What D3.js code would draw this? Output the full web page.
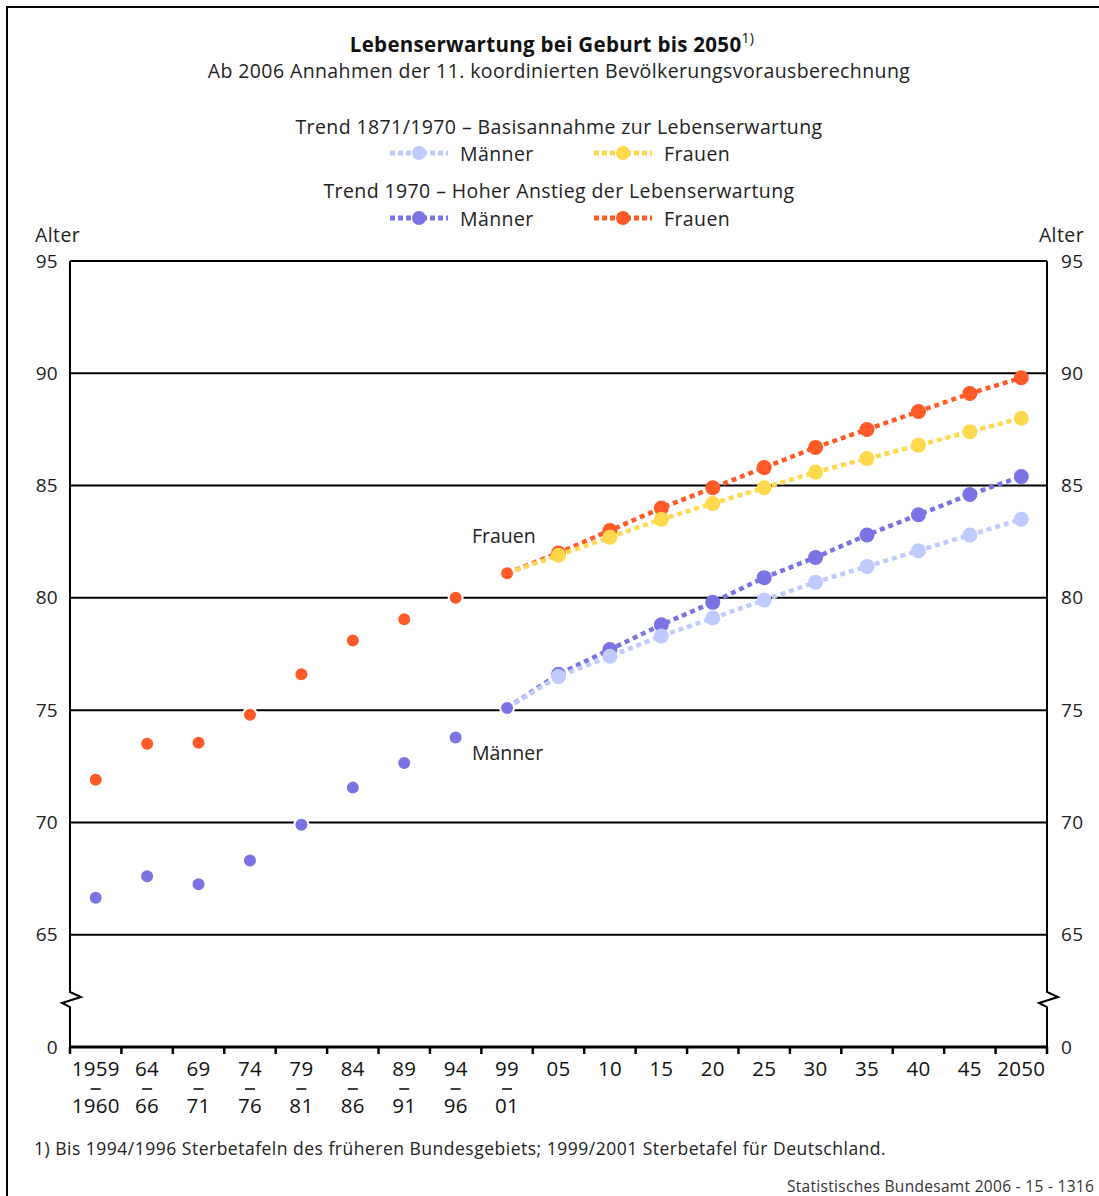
<!DOCTYPE html>
<html><head><meta charset="utf-8">
<script src="https://cdn.jsdelivr.net/npm/d3@7"></script>
<style>
html,body{margin:0;padding:0;background:#fff;}
svg{display:block;font-family:"Open Sans",sans-serif;}
</style></head>
<body>
<svg id="c" width="1099" height="1196"></svg>
<script>
// ---- data ----
const catTop = ["1959","64","69","74","79","84","89","94","99","05","10","15","20","25","30","35","40","45","2050"];
const catBottom = ["1960","66","71","76","81","86","91","96","01","","","","","","","","","",""];
const histFrauen = [71.9, 73.5, 73.55, 74.8, 76.6, 78.1, 79.05, 80.0, 81.1];
const histMaenner = [66.65, 67.6, 67.25, 68.3, 69.9, 71.55, 72.65, 73.78, 75.1];
// projections start at index 8 (1999/01) through 2050
const projFrauenHoch = [81.1, 82.0, 83.0, 84.0, 84.9, 85.8, 86.7, 87.5, 88.3, 89.1, 89.8];
const projFrauenBasis = [81.1, 81.9, 82.7, 83.5, 84.2, 84.9, 85.6, 86.2, 86.8, 87.4, 88.0];
const projMaennerHoch = [75.1, 76.6, 77.7, 78.8, 79.8, 80.9, 81.8, 82.8, 83.7, 84.6, 85.4];
const projMaennerBasis = [75.1, 76.5, 77.4, 78.3, 79.1, 79.9, 80.7, 81.4, 82.1, 82.8, 83.5];
const yTicks = [65, 70, 75, 80, 85, 90, 95];
const yBottomLabel = "0";

const C = {red:"#ff5a28", yellow:"#ffd84c", purple:"#7b73e3", light:"#bfcbff"};
const FS = 19.5, LS = 0.4;

const svg = d3.select("#c");
const X0 = 70, X1 = 1047, YT = 261, YB = 1047;

// outer frame (cropped)
svg.append("path").attr("d","M7,1200 L7,7 L1105,7").attr("fill","none").attr("stroke","#000").attr("stroke-width",2);

const x = d3.scaleBand().domain(catTop).range([X0, X1]).padding(0);
const y = d3.scaleLinear().domain([60, 95]).range([YB, YT]);
const cx = c => x(c) + x.bandwidth()/2;

// title
const tt = svg.append("text").attr("x",552).attr("y",52).attr("text-anchor","middle")
  .attr("font-size",20.5).attr("font-weight","bold").attr("fill","#111").attr("letter-spacing",0.3);
tt.append("tspan").text("Lebenserwartung bei Geburt bis 2050");
tt.append("tspan").attr("font-size",14).attr("font-weight","normal").attr("dy",-9).text("1)");
svg.append("text").attr("x",559).attr("y",78).attr("text-anchor","middle")
  .attr("font-size",FS).attr("letter-spacing",LS).attr("fill","#222")
  .text("Ab 2006 Annahmen der 11. koordinierten Bevölkerungsvorausberechnung");

// legend
const legendGroups = [
  {title:"Trend 1871/1970 – Basisannahme zur Lebenserwartung", ty:134, ry:153, items:[{t:"Männer",c:C.light},{t:"Frauen",c:C.yellow}]},
  {title:"Trend 1970 – Hoher Anstieg der Lebenserwartung", ty:198, ry:218, items:[{t:"Männer",c:C.purple},{t:"Frauen",c:C.red}]}
];
legendGroups.forEach(g=>{
  svg.append("text").attr("x",559).attr("y",g.ty).attr("text-anchor","middle")
    .attr("font-size",FS).attr("letter-spacing",LS).attr("fill","#222").text(g.title);
  g.items.forEach((it,i)=>{
    const lx = 390 + i*204;
    svg.append("line").attr("x1",lx).attr("x2",lx+58).attr("y1",g.ry).attr("y2",g.ry)
      .attr("stroke",it.c).attr("stroke-width",5).attr("stroke-dasharray","5,3");
    svg.append("circle").attr("cx",lx+29).attr("cy",g.ry).attr("r",7).attr("fill",it.c);
    svg.append("text").attr("x",lx+70).attr("y",g.ry+8).attr("font-size",FS).attr("letter-spacing",LS).attr("fill","#222").text(it.t);
  });
});

// axis labels "Alter"
svg.append("text").attr("x",35).attr("y",242).attr("font-size",FS).attr("letter-spacing",LS).attr("fill","#222").text("Alter");
svg.append("text").attr("x",1084).attr("y",242).attr("text-anchor","end").attr("font-size",FS).attr("letter-spacing",LS).attr("fill","#222").text("Alter");

// gridlines
svg.append("g").selectAll("line").data(yTicks).join("line")
  .attr("x1",X0).attr("x2",X1).attr("y1",d=>y(d)).attr("y2",d=>y(d))
  .attr("stroke","#000").attr("stroke-width",2);

// y tick labels via axes
const yLeft = d3.axisLeft(y).tickValues(yTicks.concat([60])).tickSize(0).tickPadding(12)
  .tickFormat(d=> d===60 ? yBottomLabel : d);
const gl = svg.append("g").attr("transform",`translate(${X0},0)`).call(yLeft);
const yRight = d3.axisRight(y).tickValues(yTicks.concat([60])).tickSize(0).tickPadding(14)
  .tickFormat(d=> d===60 ? yBottomLabel : d);
const gr = svg.append("g").attr("transform",`translate(${X1},0)`).call(yRight);
[gl,gr].forEach(g=>{
  g.select(".domain").remove();
  g.selectAll("text").attr("font-size",19).attr("fill","#222").attr("font-family","Open Sans, sans-serif").attr("letter-spacing",0.3);
});

// vertical axes with break zigzag
const zig = (ax) => `M${ax},${YT} L${ax},992 L${ax+11},997 L${ax-8},1003 L${ax},1007 L${ax},${YB}`;
svg.append("path").attr("d",zig(X0)).attr("fill","none").attr("stroke","#000").attr("stroke-width",2).attr("stroke-linejoin","miter");
svg.append("path").attr("d",zig(X1)).attr("fill","none").attr("stroke","#000").attr("stroke-width",2).attr("stroke-linejoin","miter");

// x axis
const xAxis = d3.axisBottom(x).tickSize(0).tickFormat("");
const gx = svg.append("g").attr("transform",`translate(0,${YB})`).call(xAxis);
gx.select(".domain").remove();
svg.append("line").attr("x1",X0-1).attr("x2",X1+1).attr("y1",YB).attr("y2",YB).attr("stroke","#000").attr("stroke-width",3);
const bounds = catTop.map(c=>x(c)).concat([X1]);
svg.append("g").selectAll("line").data(bounds).join("line")
  .attr("x1",d=>d).attr("x2",d=>d).attr("y1",YB).attr("y2",YB+7)
  .attr("stroke","#000").attr("stroke-width",2.5);
const lab = svg.append("g").attr("font-size",20.5).attr("fill","#111").attr("text-anchor","middle").attr("letter-spacing",0.3);
catTop.forEach((c,i)=>{
  lab.append("text").attr("x",cx(c)).attr("y",1076).text(c);
  if (catBottom[i]) {
    // range separator dash
    lab.append("line").attr("x1",cx(c)-5).attr("x2",cx(c)+5).attr("y1",1089).attr("y2",1089)
      .attr("stroke","#111").attr("stroke-width",1.6);
    lab.append("text").attr("x",cx(c)).attr("y",1113).text(catBottom[i]);
  }
});

// footnote and source
svg.append("text").attr("x",34).attr("y",1155).attr("font-size",17.5).attr("letter-spacing",0.5).attr("fill","#222")
  .text("1) Bis 1994/1996 Sterbetafeln des früheren Bundesgebiets; 1999/2001 Sterbetafel für Deutschland.");
svg.append("text").attr("x",787).attr("y",1192).attr("font-size",15.5).attr("letter-spacing",0.3).attr("fill","#333")
  .text("Statistisches Bundesamt 2006 - 15 - 1316");

// projections
const projCats = catTop.slice(8);
const line = d3.line().x((d,i)=>cx(projCats[i])).y(d=>y(d));
const series = [
  {d:projFrauenHoch,c:C.red},
  {d:projMaennerHoch,c:C.purple},
  {d:projFrauenBasis,c:C.yellow},
  {d:projMaennerBasis,c:C.light}
];
series.forEach(s=>{
  svg.append("path").datum(s.d).attr("d",line).attr("fill","none")
    .attr("stroke",s.c).attr("stroke-width",4.5).attr("stroke-dasharray","5,4");
  svg.append("g").selectAll("circle").data(s.d.slice(1)).join("circle")
    .attr("cx",(d,i)=>cx(projCats[i+1])).attr("cy",d=>y(d)).attr("r",7.5).attr("fill",s.c);
});

// historical points
[{d:histFrauen,c:C.red},{d:histMaenner,c:C.purple}].forEach(s=>{
  svg.append("g").selectAll("circle").data(s.d).join("circle")
    .attr("cx",(d,i)=>cx(catTop[i])).attr("cy",d=>y(d)).attr("r",7)
    .attr("fill",s.c).attr("stroke","#fff").attr("stroke-width",2);
});

// series labels
svg.append("text").attr("x",472).attr("y",543).attr("font-size",FS).attr("fill","#222").text("Frauen");
svg.append("text").attr("x",472).attr("y",760).attr("font-size",FS).attr("fill","#222").text("Männer");
</script>
</body></html>
